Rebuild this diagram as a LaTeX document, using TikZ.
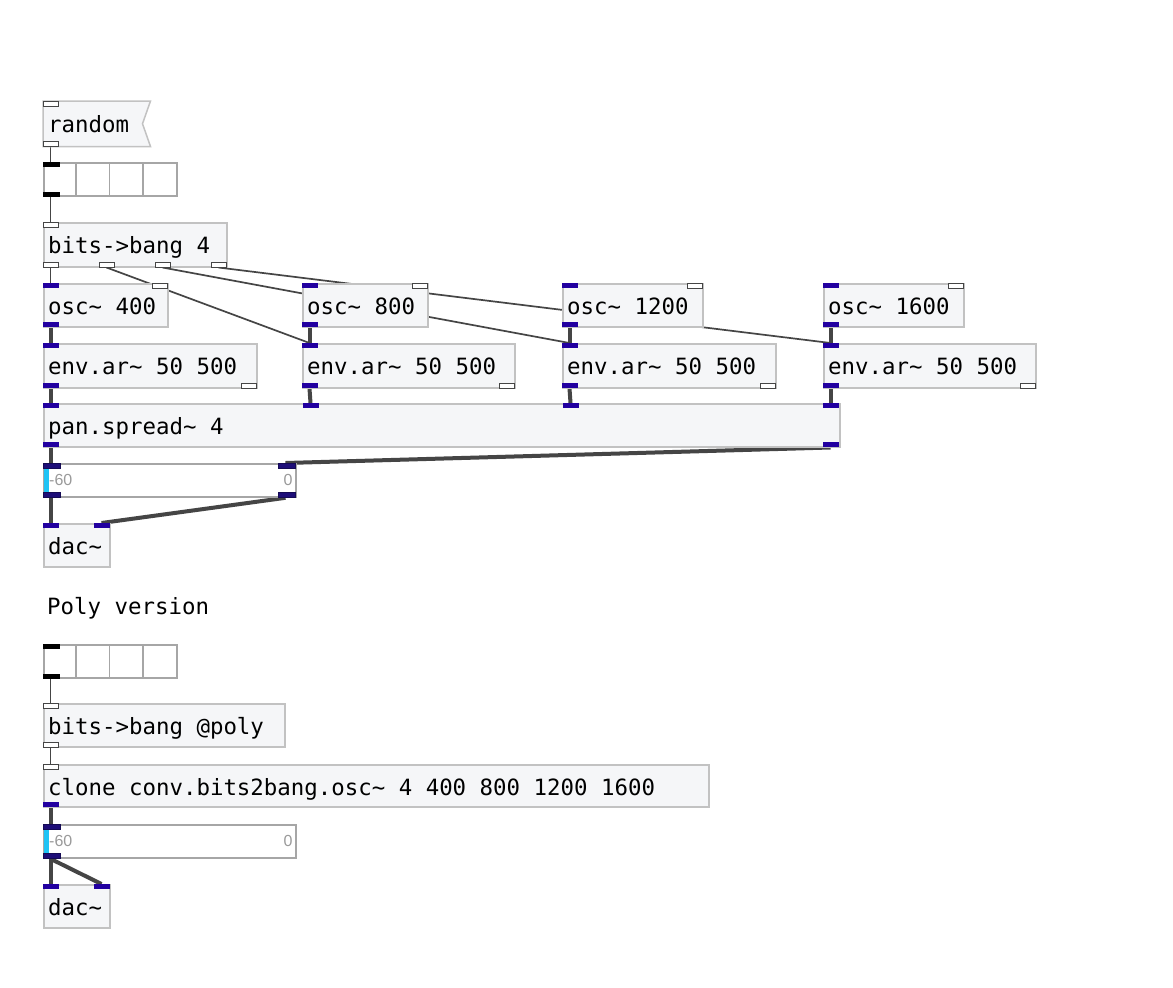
\documentclass[tikz,border=0pt]{standalone}
\usepackage{fontspec}
\setmonofont{DejaVu Sans Mono}
\setsansfont{Liberation Sans}
\usetikzlibrary{calc}
\usetikzlibrary{positioning}
\pgfdeclarelayer{paper}
\pgfdeclarelayer{wires}
\pgfsetlayers{paper,wires,main}

\definecolor{boxfill}{HTML}{F5F6F8}
\definecolor{boxline}{HTML}{C2C2C2}
\definecolor{gridline}{HTML}{A6A6A6}
\definecolor{sigblue}{HTML}{2200A0}
\definecolor{vublue}{HTML}{1E0E78}
\definecolor{wire}{HTML}{454545}
\definecolor{vucyan}{HTML}{1EC3F5}
\definecolor{vutext}{HTML}{9A9A9A}

\newcommand{\pdtilde}{\textasciitilde}
% box with its text, top left corner at #2
\newcommand{\pdbox}[5]{%
    \node[pdobj, minimum width=#3pt, minimum height=#4pt] (#1) at (#2) {};
    \node[pdtext] (#1-txt) at ($(#1.north west)+(5,31)$) {#5};
}
\newcommand{\inport}[4]{\node[#1, anchor=north west] (#2) at ($(#3.north west)+(#4,0)$) {};}
\newcommand{\outport}[4]{\node[#1, anchor=south west] (#2) at ($(#3.south west)+(#4,0)$) {};}
% wire from an outlet to an inlet, 7.5pt in from their left edges
\newcommand{\wire}[3]{\draw[#1] ([xshift=7.5pt]#2.south west) -- ([xshift=7.5pt]#3.north west);}

\tikzset{
    pdobj/.style={rectangle, draw=boxline, fill=boxfill, line width=1.5pt, inner sep=0pt, anchor=north west},
    pdtext/.style={font=\ttfamily\fontsize{22.4}{26}\selectfont, inner sep=0pt, anchor=base west},
    gridbox/.style={rectangle, draw=gridline, fill=white, line width=1.8pt, inner sep=0pt, anchor=north west},
    vulabel/.style={font=\sffamily\fontsize{16}{18}\selectfont, text=vutext, inner sep=0pt},
    sigport/.style={rectangle, fill=sigblue, minimum width=15.5pt, minimum height=5pt, inner sep=0pt},
    vuport/.style={rectangle, fill=vublue, draw=vublue!70!black, line width=0.6pt, minimum width=17pt, minimum height=5pt, inner sep=0pt},
    ctlport/.style={rectangle, fill=white, draw=wire, line width=1pt, minimum width=15pt, minimum height=4.5pt, inner sep=0pt},
    tglport/.style={rectangle, fill=black, minimum width=17pt, minimum height=4.5pt, inner sep=0pt},
    ctlwire/.style={draw=wire, line width=1.7pt},
    sigwire/.style={draw=wire, line width=4pt},
}

\begin{document}
\begin{tikzpicture}[x=1pt, y=-1pt]
    \begin{pgfonlayer}{paper}
        \fill[white] (0,0) rectangle (1173,988);
    \end{pgfonlayer}
    \useasboundingbox (0,0) rectangle (1173,988);

    % message box
    \node[pdobj, draw=none, fill=none, minimum width=106pt, minimum height=44pt] (rnd) at (43,101) {};
    \filldraw[draw=boxline, fill=boxfill, line width=1.5pt] (rnd.north west) -- (rnd.north east)
        -- ($(rnd.east)+(-8,0)$) -- (rnd.south east) -- (rnd.south west) -- cycle;
    \node[pdtext] (rnd-txt) at ($(rnd.north west)+(5,31)$) {random};
    \inport{ctlport}{rnd-i}{rnd}{0}
    \outport{ctlport}{rnd-o}{rnd}{0}

    % bit grids
    \foreach \g/\gy in {tgl1/162, tgl2/644} {
        \node[gridbox, minimum width=133pt, minimum height=33pt] (\g) at (43,\gy) {};
        \foreach \k in {1,2,3} {
            \draw[gridline, line width=1.8pt] ($(\g.north west)+(\k*33.25,0)$) -- ($(\g.south west)+(\k*33.25,0)$);
        }
        \inport{tglport}{\g-i}{\g}{0}
        \outport{tglport}{\g-o}{\g}{0}
    }

    \pdbox{bb1}{43,222}{183}{44}{bits->bang 4}
    \inport{ctlport}{bb1-i}{bb1}{0}
    \foreach \k in {0,...,3} {
        \outport{ctlport}{bb1-o\k}{bb1}{\k*56}
    }

    % oscillators and envelopes
    \foreach \k/\px/\ow/\ew/\f in {1/43/124/213/400, 2/302/125/212/800, 3/562/140/213/1200, 4/823/140/212/1600} {
        \pdbox{osc\k}{\px,283}{\ow}{43}{osc\pdtilde{} \f}
        \inport{sigport}{osc\k-i}{osc\k}{0}
        \inport{ctlport}{osc\k-r}{osc\k}{\ow-15}
        \outport{sigport}{osc\k-o}{osc\k}{0}
        \pdbox{env\k}{\px,343}{\ew}{44}{env.ar\pdtilde{} 50 500}
        \inport{sigport}{env\k-i}{env\k}{0}
        \outport{sigport}{env\k-o}{env\k}{0}
        \outport{ctlport}{env\k-r}{env\k}{\ew-15}
    }

    \pdbox{pan}{43,403}{796}{43}{pan.spread\pdtilde{} 4}
    \foreach \k/\dx in {1/0, 2/260, 3/520, 4/780} {
        \inport{sigport}{pan-i\k}{pan}{\dx}
    }
    \outport{sigport}{pan-o0}{pan}{0}
    \outport{sigport}{pan-o1}{pan}{780}

    % meters
    \foreach \m/\my in {vu1/463, vu2/824} {
        \node[gridbox, minimum width=252pt, minimum height=33pt] (\m) at (43,\my) {};
        \fill[vucyan] ($(\m.north west)+(1,5)$) rectangle ($(\m.south west)+(5.5,-5)$);
        \node[vulabel, anchor=west] (\m-lo) at ($(\m.west)+(6,0)$) {-60};
        \node[vulabel, anchor=east] (\m-hi) at ($(\m.east)+(-4,0)$) {0};
        \inport{vuport}{\m-i0}{\m}{0}
        \outport{vuport}{\m-o0}{\m}{0}
    }
    \inport{vuport}{vu1-i1}{vu1}{235}
    \outport{vuport}{vu1-o1}{vu1}{235}

    \foreach \d/\dy in {dac1/523, dac2/884} {
        \pdbox{\d}{43,\dy}{66}{43}{dac\pdtilde}
        \inport{sigport}{\d-i0}{\d}{0}
        \inport{sigport}{\d-i1}{\d}{51}
    }

    \node[pdtext] (poly) at (47,614) {Poly version};

    \pdbox{bb2}{43,703}{241}{43}{bits->bang @poly}
    \inport{ctlport}{bb2-i}{bb2}{0}
    \outport{ctlport}{bb2-o}{bb2}{0}

    \pdbox{cln}{43,764}{665}{42}{clone conv.bits2bang.osc\pdtilde{} 4 400 800 1200 1600}
    \inport{ctlport}{cln-i}{cln}{0}
    \outport{sigport}{cln-o}{cln}{0}

    % connections
    \begin{pgfonlayer}{wires}
        \wire{ctlwire}{rnd-o}{tgl1-i}
        \wire{ctlwire}{tgl1-o}{bb1-i}
        \foreach \k in {1,...,4} {
            \pgfmathtruncatemacro{\j}{\k-1}
            \wire{ctlwire}{bb1-o\j}{env\k-i}
            \wire{sigwire}{osc\k-o}{env\k-i}
            \wire{sigwire}{env\k-o}{pan-i\k}
        }
        \wire{sigwire}{pan-o0}{vu1-i0}
        \wire{sigwire}{pan-o1}{vu1-i1}
        \wire{sigwire}{vu1-o0}{dac1-i0}
        \wire{sigwire}{vu1-o1}{dac1-i1}
        \wire{ctlwire}{tgl2-o}{bb2-i}
        \wire{ctlwire}{bb2-o}{cln-i}
        \wire{sigwire}{cln-o}{vu2-i0}
        \wire{sigwire}{vu2-o0}{dac2-i0}
        \wire{sigwire}{vu2-o0}{dac2-i1}
    \end{pgfonlayer}
\end{tikzpicture}
\end{document}
